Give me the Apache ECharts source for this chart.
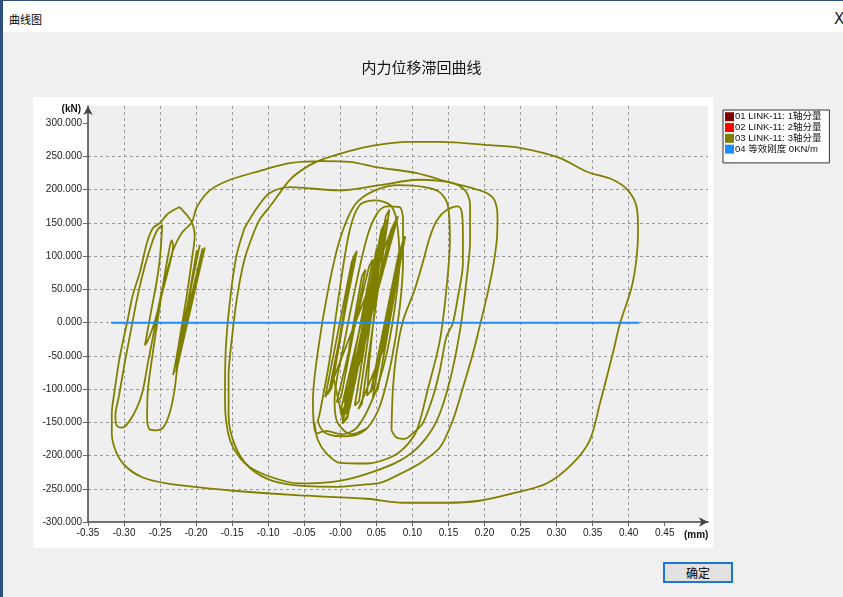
<!DOCTYPE html>
<html>
<head>
<meta charset="utf-8">
<script src="https://cdn.jsdelivr.net/npm/echarts@6/dist/echarts.min.js"></script>
<style>
  html, body { margin: 0; padding: 0; width: 843px; height: 597px; overflow: hidden; background: #f0f0f0; font-family: "Liberation Sans", "Noto Sans CJK SC", sans-serif; }
  #frame { position: absolute; left: 0; top: 0; width: 843px; height: 597px; }
  #leftEdge { position: absolute; left: 0; top: 0; width: 3px; height: 597px; background: #2d4f7c; }
  #topEdge { position: absolute; left: 0; top: 0; width: 843px; height: 1px; background: #2d4f7c; }
  #titleBar { position: absolute; left: 3px; top: 1px; width: 840px; height: 31px; background: #ffffff; }
  #titleText { position: absolute; left: 6px; top: 12px; font-size: 11px; font-family: "Noto Sans CJK SC", sans-serif; color: #000; line-height: 12px; }
  #closeX { position: absolute; left: 831px; top: 10px; font-size: 15px; color: #222; font-family: "DejaVu Sans", sans-serif; line-height: 16px; }
  #panel { position: absolute; left: 33px; top: 97px; width: 680px; height: 451px; background: #ffffff; }
  #okBtn { position: absolute; left: 663px; top: 562px; width: 66px; height: 17px; border: 2px solid #1c74d4; background: #e1e1e1; text-align: center; font-size: 12px; line-height: 17px; font-family: "Noto Sans CJK SC", sans-serif; color: #000; }
  #chart { position: absolute; left: 0; top: 0; width: 843px; height: 597px; }
</style>
</head>
<body>
<div id="frame">
  <div id="titleBar"><div id="titleText">曲线图</div><div id="closeX">X</div></div>
  <div id="topEdge"></div>
  <div id="leftEdge"></div>
  <div id="panel"></div>
  <div id="okBtn">确定</div>
  <div id="chart"></div>
</div>
<script>
// Axis tick values
const xTicks = [-0.35, -0.30, -0.25, -0.20, -0.15, -0.10, -0.05, 0.00, 0.05, 0.10, 0.15, 0.20, 0.25, 0.30, 0.35, 0.40, 0.45];
const yTicks = [-300, -250, -200, -150, -100, -50, 0, 50, 100, 150, 200, 250, 300];

// Legend names
const seriesNames = ['01 LINK-11: 1轴分量', '02 LINK-11: 2轴分量', '03 LINK-11: 3轴分量', '04 等效刚度 0KN/m'];
const seriesColors = ['#800000', '#ff0000', '#808000', '#1a8cff'];

// Link 1 / Link 2 components (empty in this record)
const link1Data = [];
const link2Data = [];

// Link 3 component: displacement (mm) vs force (kN), split in strands
const centerStrokes = [
  [0.030, 0], [0.060, 110], [0.055, 96], [0.020, -60], [0.005, -120], [0.012, -108],
  [0.050, 40], [0.075, 150], [0.070, 138], [0.030, -50], [0.002, -140], [0.009, -128],
  [0.045, 20], [0.080, 160], [0.074, 148],
  [-0.018, -108], [-0.012, -98], [0.020, 100], [0.016, 92], [-0.021, -112], [-0.015, -100],
  [0.023, 108], [0.018, 98], [-0.010, -80],
  [0.004, -150], [0.010, -140], [0.062, 150], [0.057, 140], [0.008, -138], [0.013, -128],
  [0.066, 156], [0.060, 146], [0.003, -152], [0.010, -143], [0.055, 120], [0.050, 110],
  [0.015, -100], [0.020, -92], [0.064, 140], [0.058, 130],
  [0.040, -60], [0.037, -110], [0.044, -100], [0.085, 115], [0.081, 104], [0.042, -105],
  [0.048, -94], [0.087, 122], [0.083, 110], [0.052, -70], [0.045, -112], [0.052, -100],
  [0.078, 60], [0.090, 130], [0.086, 120], [0.060, -40],
  [0.025, -130], [0.030, -122], [0.068, 170], [0.063, 160], [0.020, -125], [0.026, -118],
  [0.058, 125], [0.053, 112], [0.000, -135], [0.006, -127], [0.045, 95], [0.040, 85],
  [-0.005, -120], [0.001, -112], [0.035, 80], [0.030, 70], [0.012, -40]
];

const centerLoops = [
  [0.037, -159], [0.015, -168], [-0.004, -150], [-0.008, -117], [0.006, -27], [0.023, 64],
  [0.038, 132], [0.052, 166], [0.064, 175], [0.082, 174], [0.087, 154], [0.087, 94],
  [0.082, 19], [0.071, -57], [0.055, -125], [0.037, -159], [0.018, -170],
  [0.000, -171], [-0.022, -165], [-0.031, -147], [-0.029, -139], [-0.015, -57], [-0.001, 49],
  [0.013, 139], [0.027, 177], [0.048, 184], [0.069, 177], [0.078, 154], [0.082, 94],
  [0.075, 19], [0.062, -57], [0.044, -117], [0.023, -158], [0.002, -168], [-0.020, -163],
  [-0.033, -167], [-0.038, -117], [-0.031, -42], [-0.017, 49], [-0.001, 124], [0.020, 177],
  [0.048, 199], [0.082, 207], [0.117, 204], [0.138, 196], [0.149, 177], [0.152, 124],
  [0.147, 49], [0.138, -27], [0.121, -102], [0.106, -162], [0.089, -188], [0.069, -203],
  [0.037, -212], [-0.001, -211], [-0.019, -197], [-0.031, -177], [-0.036, -150]
];

const narrowLoop = [
  [0.071, -162], [0.073, -98], [0.078, -46], [0.087, 3], [0.103, 49], [0.114, 89],
  [0.124, 128], [0.134, 154], [0.147, 169], [0.163, 175], [0.168, 169], [0.170, 139],
  [0.170, 89], [0.163, 38], [0.156, -1], [0.147, -22], [0.138, -72], [0.128, -113],
  [0.114, -152], [0.100, -167], [0.089, -175], [0.078, -173], [0.071, -162]
];

const middleLoop = [
  [-0.133, 142], [-0.116, 172], [-0.098, 195], [-0.070, 204], [-0.001, 199], [0.055, 207],
  [0.110, 215], [0.152, 211], [0.173, 199], [0.180, 177], [0.180, 124], [0.175, 64],
  [0.166, -12], [0.152, -87], [0.134, -147], [0.110, -185], [0.082, -208], [0.041, -226],
  [-0.001, -238], [-0.056, -242], [-0.102, -230], [-0.133, -211], [-0.153, -177],
  [-0.160, -117], [-0.159, -42], [-0.153, 34], [-0.144, 101], [-0.133, 142]
];

const outerPath = [
  [-0.223, 174], [-0.213, 162], [-0.206, 151],
  [-0.202, 132], [-0.206, 94], [-0.213, 41], [-0.221, -12], [-0.228, -57], [-0.232, -79],
  [-0.195, 117], [-0.230, -69], [-0.191, 112], [-0.226, -52], [-0.188, 113], [-0.228, -75],
  [-0.199, 109],
  [-0.212, 19], [-0.218, -27], [-0.226, -67], [-0.230, -102], [-0.237, -137], [-0.246, -158],
  [-0.255, -162], [-0.264, -161], [-0.268, -147], [-0.267, -102], [-0.261, -52], [-0.254, -1],
  [-0.247, 49], [-0.243, 76], [-0.238, 106], [-0.234, 124], [-0.232, 115], [-0.236, 91],
  [-0.246, 49], [-0.257, 3], [-0.267, -27], [-0.271, -34],
  [-0.262, 20], [-0.255, 60], [-0.250, 100], [-0.247, 147],
  [-0.254, 139], [-0.261, 121], [-0.271, 86], [-0.281, 41], [-0.290, -9], [-0.299, -60],
  [-0.307, -110], [-0.312, -140], [-0.310, -155], [-0.303, -158], [-0.295, -152],
  [-0.282, -128], [-0.274, -102], [-0.267, -61], [-0.260, -22], [-0.253, 19], [-0.246, 56],
  [-0.238, 86], [-0.232, 109], [-0.220, 135], [-0.206, 151],
  [-0.199, 174], [-0.181, 199], [-0.153, 215], [-0.116, 227], [-0.070, 240], [-0.024, 243],
  [0.013, 242], [0.050, 234], [0.106, 225], [0.152, 211], [0.184, 202], [0.203, 195],
  [0.214, 184], [0.218, 159], [0.217, 124], [0.211, 79], [0.203, 38], [0.193, -7],
  [0.184, -46], [0.170, -98], [0.156, -147], [0.138, -188], [0.110, -212], [0.073, -233],
  [0.055, -241], [0.030, -244], [-0.001, -247], [-0.047, -246], [-0.094, -238],
  [-0.126, -218], [-0.146, -185], [-0.155, -140], [-0.155, -80], [-0.150, -20],
  [-0.143, 40], [-0.133, 95], [-0.122, 130], [-0.112, 155], [-0.102, 169],
  [-0.094, 180], [-0.070, 215], [-0.047, 234], [-0.024, 246], [-0.001, 254], [0.023, 261],
  [0.050, 267], [0.092, 272], [0.138, 272], [0.207, 267], [0.249, 263], [0.304, 248],
  [0.342, 227], [0.378, 215], [0.399, 199], [0.411, 174], [0.413, 139], [0.411, 98],
  [0.404, 53], [0.388, -1], [0.378, -46], [0.360, -122], [0.346, -177], [0.322, -212],
  [0.286, -242], [0.239, -257], [0.193, -268], [0.147, -271], [0.087, -271], [0.037, -265],
  [-0.056, -260], [-0.149, -253], [-0.195, -248], [-0.241, -242], [-0.274, -233],
  [-0.296, -218], [-0.310, -197], [-0.317, -167], [-0.317, -137], [-0.313, -102],
  [-0.306, -52], [-0.296, -1], [-0.288, 41], [-0.278, 76], [-0.268, 121], [-0.260, 142],
  [-0.250, 150], [-0.241, 162], [-0.232, 169], [-0.223, 174]
];

// Equivalent stiffness line (0 kN/m)
const stiffnessLine = [[-0.318, 0], [0.415, 0]];

const chart = echarts.init(document.getElementById('chart'));

const axisFont = { fontSize: 10, color: '#1a1a1a', fontFamily: 'Liberation Sans, Arial, sans-serif' };

const series = [
  { name: seriesNames[0], type: 'line', data: link1Data, color: seriesColors[0] },
  { name: seriesNames[1], type: 'line', data: link2Data, color: seriesColors[1] }
];
// thin elastic strokes are drawn straight, the wider loops slightly rounded
[[centerStrokes, 0], [centerLoops, 0.3], [narrowLoop, 0.3], [middleLoop, 0.3], [outerPath, 0.3]].forEach(function (item) {
  series.push({
    name: seriesNames[2], type: 'line', data: item[0], color: seriesColors[2],
    showSymbol: false, smooth: item[1], lineStyle: { width: 1.8, color: seriesColors[2] }
  });
});
series.push({
  name: seriesNames[3], type: 'line', data: stiffnessLine, color: seriesColors[3],
  showSymbol: false, lineStyle: { width: 2, color: seriesColors[3] }, z: 3
});

chart.setOption({
  animation: false,
  title: {
    text: '内力位移滞回曲线', left: 'center', top: 60, padding: 0,
    textStyle: { fontSize: 15, fontWeight: 'normal', color: '#111', fontFamily: 'Noto Sans CJK SC' }
  },
  legend: {
    orient: 'vertical', left: 723, top: 110, data: seriesNames,
    itemWidth: 9, itemHeight: 9, itemGap: 1.3, icon: 'rect',
    borderColor: '#333', borderWidth: 1, backgroundColor: '#ffffff',
    padding: [2, 8, 9, 2],
    textStyle: { fontSize: 9.5, color: '#111', fontFamily: 'Liberation Sans, Noto Sans CJK SC', padding: [0, 0, 0, -4] }
  },
  grid: { left: 88, top: 106, right: 135, bottom: 75, show: true, backgroundColor: '#efefef', borderWidth: 0 },
  xAxis: {
    type: 'value', min: -0.35, max: 0.51, interval: 0.05,
    name: '(mm)', nameLocation: 'end', nameGap: -24,
    nameTextStyle: { fontSize: 10, fontWeight: 'bold', color: '#111', verticalAlign: 'top', padding: [8, 0, 0, 0] },
    axisLine: { onZero: false, lineStyle: { color: '#444', width: 1.5 }, symbol: ['none', 'arrow'], symbolSize: [7, 9] },
    axisTick: { show: true, length: 4, lineStyle: { color: '#666' }, customValues: xTicks },
    axisLabel: Object.assign({ margin: 6, customValues: xTicks,
      formatter: function (v) { return Math.abs(v) < 1e-9 ? '-0.00' : v.toFixed(2); } }, axisFont),
    splitLine: { show: true, showMinLine: false, showMaxLine: false, lineStyle: { color: '#999', type: [3, 3], width: 1 } }
  },
  yAxis: {
    type: 'value', min: -300, max: 326, interval: 50,
    name: '(kN)', nameLocation: 'end', nameGap: -3,
    nameTextStyle: { fontSize: 10, fontWeight: 'bold', color: '#111', align: 'right', verticalAlign: 'middle', padding: [0, 7, 0, 0] },
    axisLine: { onZero: false, lineStyle: { color: '#444', width: 1.5 }, symbol: ['none', 'arrow'], symbolSize: [7, 9] },
    axisTick: { show: true, length: 5, lineStyle: { color: '#666' }, customValues: yTicks },
    axisLabel: Object.assign({ margin: 6, customValues: yTicks,
      formatter: function (v) { return v.toFixed(3); } }, axisFont),
    splitLine: { show: true, showMinLine: false, showMaxLine: false, lineStyle: { color: '#999', type: [3, 3], width: 1 } }
  },
  series: series
});
</script>
</body>
</html>
